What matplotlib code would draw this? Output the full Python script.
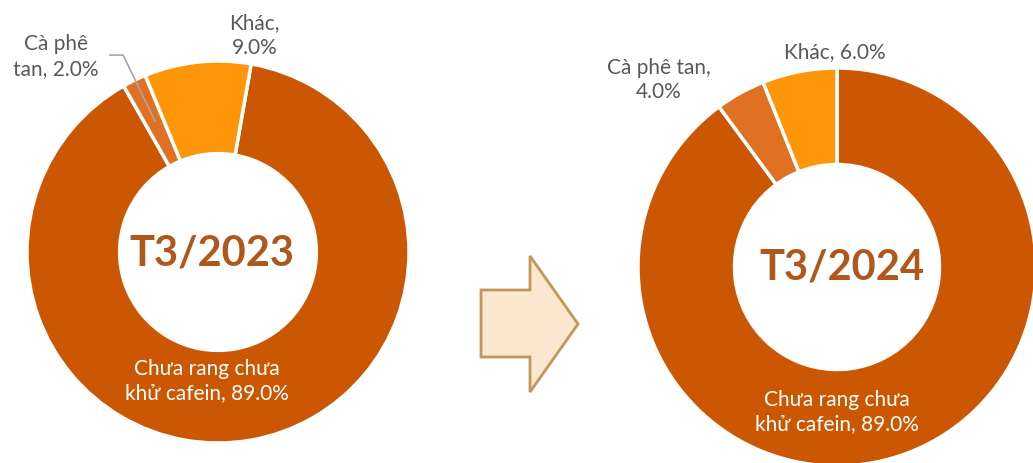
import matplotlib
matplotlib.use("Agg")
import matplotlib.pyplot as plt
from matplotlib.patches import Polygon

plt.rcParams['font.family'] = ['Lato', 'DejaVu Sans']

# data
categories = ['Chưa rang chưa khử cafein', 'Cà phê tan', 'Khác']
share_2023 = [89.0, 2.0, 9.0]
share_2024 = [89.0, 4.0, 6.0]
titles = ['T3/2023', 'T3/2024']

COLORS = ['#CB5703', '#E07122', '#FF9508']
LABEL_GRAY = '#595959'
TITLE_COLOR = '#B0571C'
FS = 15

W, H = 1033, 464
fig = plt.figure(figsize=(W / 100, H / 100), dpi=100)


def donut_axes(cx, cy, r):
    # pixel centre/radius -> square axes in figure fraction
    return fig.add_axes([(cx - r) / W, (H - cy - r) / H, 2 * r / W, 2 * r / H])


def donut(ax, values, startangle):
    ax.pie(values, colors=COLORS, startangle=startangle, counterclock=False,
           radius=1.0, wedgeprops=dict(width=0.485, edgecolor='white', linewidth=2.5))
    ax.set_xlim(-1, 1)
    ax.set_ylim(-1, 1)
    ax.set_aspect('equal')
    ax.axis('off')


main_lbl = categories[0].replace('chưa khử', 'chưa\nkhử')

# left donut
ax1 = donut_axes(218, 253, 191)
donut(ax1, share_2023, 80)
ax1.text(-0.03, 0.0, titles[0], ha='center', va='center', fontsize=30,
         fontweight='bold', color=TITLE_COLOR)
ax1.text(0.19, 1.14, f'{categories[2]},\n{share_2023[2]:.1f}%', ha='center', va='center',
         fontsize=FS, color=LABEL_GRAY, linespacing=1.3, clip_on=False)
ax1.text(-0.85, 1.03, f'Cà phê\ntan, {share_2023[1]:.1f}%', ha='center', va='center',
         fontsize=FS, color=LABEL_GRAY, linespacing=1.3, clip_on=False)
ax1.text(-0.06, -0.67, f'{main_lbl}, {share_2023[0]:.1f}%', ha='center',
         va='center', fontsize=FS, color='white', linespacing=1.3)
ax1.plot([-0.565, -0.497, -0.330], [1.031, 1.031, 0.686], color='#A6A6A6',
         lw=1.2, clip_on=False)

# right donut
ax2 = donut_axes(837, 268, 199)
donut(ax2, share_2024, 90)
ax2.text(0.025, 0.0, titles[1], ha='center', va='center', fontsize=30,
         fontweight='bold', color=TITLE_COLOR)
ax2.text(-0.01, 1.085, f'{categories[2]}, {share_2024[2]:.1f}%', ha='center', va='center',
         fontsize=FS, color=LABEL_GRAY, clip_on=False)
ax2.text(-0.894, 0.945, f'{categories[1]},\n{share_2024[1]:.1f}%', ha='center', va='center',
         fontsize=FS, color=LABEL_GRAY, linespacing=1.3, clip_on=False)
ax2.text(0.0, -0.724, f'{main_lbl}, {share_2024[0]:.1f}%', ha='center',
         va='center', fontsize=FS, color='white', linespacing=1.3)

# arrow between the two donuts (pixel outline)
arrow_px = [(481, 291), (530, 291), (530, 257), (578, 325),
            (530, 393), (530, 358), (481, 358)]
arrow = Polygon([(x / W, 1 - y / H) for x, y in arrow_px], closed=True,
                transform=fig.transFigure, facecolor='#FBE7CF',
                edgecolor='#BF9858', linewidth=2)
fig.patches.append(arrow)

fig.savefig('out.png', dpi=100)
